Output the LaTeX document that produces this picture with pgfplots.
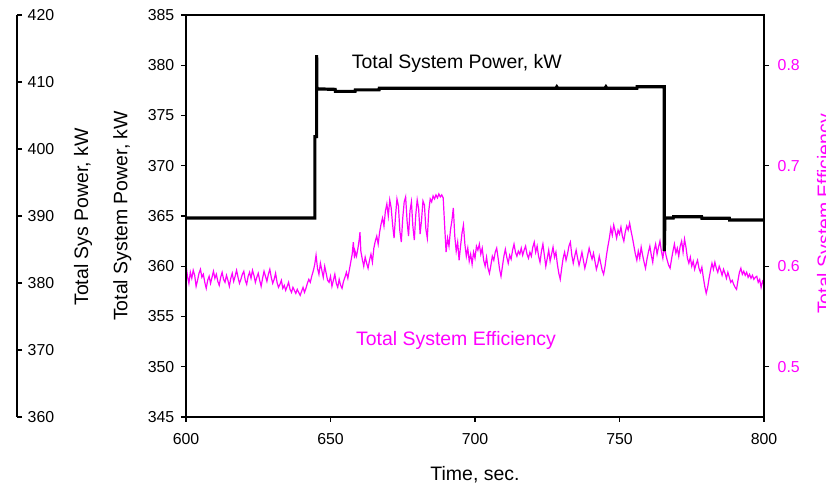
\documentclass[border=0pt]{standalone}
\usepackage{fontspec}
\setmainfont{Liberation Sans}
\usepackage{pgfplots}
\pgfplotsset{compat=1.18}
\usepackage{pgfplotstable}
\definecolor{effmag}{RGB}{255,0,255}

\pgfplotstableread{
t p
600.0 364.8
644.6 364.8
644.6 372.9
645.2 372.9
645.2 381.0
645.3 377.65
651.6 377.6
651.7 377.4
658.5 377.4
658.6 377.55
666.8 377.55
666.9 377.72
728.0 377.72
728.3 377.85
728.6 377.72
745.0 377.72
745.3 377.85
745.6 377.72
756.0 377.7
756.1 377.87
765.5 377.87
765.5 361.5
765.7 364.8
768.6 364.8
768.7 364.93
778.4 364.93
778.5 364.77
788.0 364.77
788.1 364.6
800.0 364.6
}\powtable

\pgfplotstableread{
t e
600.0 0.601
600.5 0.590
601.0 0.583
601.5 0.594
602.0 0.588
602.5 0.596
603.0 0.591
603.5 0.580
604.0 0.586
604.5 0.593
605.0 0.597
605.5 0.589
606.0 0.592
606.5 0.584
607.0 0.578
607.5 0.586
608.0 0.590
608.5 0.583
609.0 0.589
609.5 0.595
610.0 0.588
610.5 0.592
611.0 0.585
611.5 0.581
612.0 0.589
612.5 0.594
613.0 0.587
613.5 0.584
614.0 0.591
614.5 0.586
615.0 0.580
615.5 0.588
616.0 0.593
616.5 0.585
617.0 0.590
617.5 0.596
618.0 0.589
618.5 0.583
619.0 0.587
619.5 0.592
620.0 0.595
620.5 0.586
621.0 0.582
621.5 0.590
622.0 0.594
622.5 0.588
623.0 0.596
623.5 0.591
624.0 0.584
624.5 0.589
625.0 0.593
625.5 0.586
626.0 0.580
626.5 0.588
627.0 0.595
627.5 0.590
628.0 0.585
628.5 0.592
629.0 0.597
629.5 0.589
630.0 0.583
630.5 0.587
631.0 0.593
631.5 0.584
632.0 0.579
632.5 0.582
633.0 0.586
633.5 0.578
634.0 0.581
634.5 0.576
635.0 0.580
635.5 0.584
636.0 0.577
636.5 0.574
637.0 0.579
637.5 0.576
638.0 0.573
638.5 0.577
639.0 0.574
639.5 0.571
640.0 0.575
640.5 0.579
641.0 0.574
641.5 0.578
642.0 0.583
642.5 0.587
643.0 0.584
643.5 0.590
644.0 0.595
644.5 0.601
645.0 0.611
645.5 0.598
646.0 0.592
646.5 0.603
647.0 0.596
647.5 0.589
648.0 0.600
648.5 0.593
649.0 0.586
649.5 0.584
650.0 0.590
650.5 0.580
651.0 0.586
651.5 0.592
652.0 0.583
652.5 0.579
653.0 0.587
653.5 0.581
654.0 0.578
654.5 0.585
655.0 0.589
655.5 0.594
656.0 0.588
656.5 0.596
657.0 0.604
657.5 0.612
657.9 0.624
658.3 0.608
658.5 0.615
659.0 0.610
659.5 0.618
660.0 0.628
660.2 0.634
660.5 0.615
661.0 0.607
661.5 0.600
662.0 0.609
662.5 0.603
663.0 0.598
663.5 0.606
664.0 0.612
664.5 0.604
665.0 0.618
665.5 0.625
666.0 0.630
666.5 0.622
667.0 0.634
667.5 0.642
668.0 0.648
668.5 0.640
669.0 0.655
669.5 0.662
670.0 0.650
670.5 0.666
671.0 0.658
671.5 0.641
672.0 0.628
672.5 0.650
673.0 0.667
673.5 0.660
674.0 0.635
674.5 0.624
675.0 0.648
675.5 0.664
676.0 0.669
676.5 0.645
677.0 0.630
677.5 0.655
678.0 0.664
678.5 0.640
679.0 0.626
679.5 0.651
680.0 0.666
680.5 0.657
681.0 0.632
681.5 0.646
682.0 0.665
682.5 0.661
683.0 0.637
683.5 0.628
684.0 0.655
684.5 0.667
685.0 0.664
685.5 0.670
686.0 0.667
686.5 0.671
687.0 0.668
687.5 0.672
688.0 0.669
688.5 0.671
689.0 0.668
689.5 0.640
690.0 0.614
690.5 0.628
691.0 0.620
691.5 0.636
692.0 0.645
692.5 0.658
693.0 0.630
693.5 0.615
694.0 0.624
694.5 0.606
695.0 0.620
695.5 0.633
696.0 0.641
696.5 0.622
697.0 0.610
697.5 0.618
698.0 0.605
698.5 0.612
699.0 0.602
699.5 0.614
700.0 0.608
700.5 0.620
701.0 0.616
701.5 0.622
702.0 0.612
702.5 0.618
703.0 0.606
703.5 0.600
704.0 0.609
704.5 0.598
705.0 0.593
705.5 0.601
706.0 0.610
706.5 0.606
707.0 0.614
707.5 0.618
708.0 0.608
708.5 0.597
709.0 0.590
709.5 0.600
710.0 0.610
710.5 0.617
711.0 0.609
711.5 0.603
712.0 0.611
712.5 0.607
713.0 0.616
713.5 0.622
714.0 0.614
714.5 0.610
715.0 0.615
715.5 0.612
716.0 0.618
716.5 0.611
717.0 0.616
717.5 0.620
718.0 0.612
718.5 0.608
719.0 0.614
719.5 0.610
720.0 0.619
720.5 0.624
721.0 0.614
721.5 0.620
722.0 0.610
722.5 0.604
723.0 0.615
723.5 0.622
724.0 0.611
724.5 0.600
725.0 0.608
725.5 0.616
726.0 0.605
726.5 0.612
727.0 0.619
727.5 0.609
728.0 0.614
728.5 0.602
729.0 0.593
729.5 0.587
730.0 0.598
730.5 0.608
731.0 0.614
731.5 0.606
732.0 0.612
732.5 0.620
733.0 0.624
733.5 0.611
734.0 0.603
734.5 0.610
735.0 0.616
735.5 0.608
736.0 0.601
736.5 0.607
737.0 0.614
737.5 0.606
738.0 0.598
738.5 0.604
739.0 0.611
739.5 0.618
740.0 0.612
740.5 0.607
741.0 0.613
741.5 0.605
742.0 0.597
742.5 0.602
743.0 0.610
743.5 0.603
744.0 0.596
744.5 0.592
745.0 0.600
745.5 0.611
746.0 0.620
746.5 0.628
747.0 0.638
747.5 0.631
748.0 0.641
748.5 0.635
749.0 0.628
749.5 0.636
750.0 0.632
750.5 0.639
751.0 0.630
751.5 0.625
752.0 0.634
752.5 0.640
753.0 0.636
753.5 0.643
754.0 0.635
754.5 0.628
755.0 0.620
755.5 0.612
756.0 0.606
756.5 0.615
757.0 0.608
757.5 0.619
758.0 0.611
758.5 0.604
759.0 0.598
759.5 0.607
760.0 0.614
760.5 0.620
761.0 0.611
761.5 0.604
762.0 0.616
762.5 0.622
763.0 0.612
763.5 0.619
764.0 0.625
764.5 0.615
765.0 0.608
765.5 0.620
766.0 0.612
766.5 0.606
767.0 0.601
767.5 0.598
768.0 0.607
768.5 0.615
769.0 0.622
769.5 0.613
770.0 0.618
770.5 0.610
771.0 0.620
771.5 0.625
772.0 0.614
772.5 0.627
773.0 0.619
773.5 0.608
774.0 0.603
774.5 0.609
775.0 0.600
775.5 0.605
776.0 0.597
776.5 0.602
777.0 0.606
777.5 0.598
778.0 0.594
778.5 0.599
779.0 0.589
779.5 0.580
780.0 0.573
780.5 0.579
781.0 0.588
781.5 0.596
782.0 0.603
782.5 0.597
783.0 0.604
783.5 0.598
784.0 0.594
784.5 0.600
785.0 0.596
785.5 0.591
786.0 0.597
786.5 0.593
787.0 0.588
787.5 0.594
788.0 0.589
788.5 0.584
789.0 0.586
789.5 0.582
790.0 0.579
790.5 0.577
791.0 0.586
791.5 0.594
792.0 0.598
792.5 0.592
793.0 0.595
793.5 0.591
794.0 0.594
794.5 0.589
795.0 0.592
795.5 0.588
796.0 0.591
796.5 0.587
797.0 0.589
797.5 0.590
798.0 0.584
798.5 0.587
799.0 0.579
799.5 0.585
800.0 0.582
}\efftable

\newcommand{\lblfont}{\fontsize{14.6}{17}\selectfont}
\newcommand{\tckfont}{\fontsize{11.9}{14}\selectfont}

\begin{document}
\begin{tikzpicture}
\useasboundingbox (0,0) rectangle (619.5pt,366.75pt);
\pgfplotsset{
  every axis/.append style={
    scale only axis,
    /pgf/number format/assume math mode=true,
    tick label style={font=\tckfont},
    label style={font=\lblfont},
    major tick length=3.75pt,
    tick align=outside,
    axis line style={line width=0.8pt, black},
    every tick/.style={line width=0.8pt, black},
  },
}
% right axis: efficiency
\begin{axis}[
  at={(139.5pt,54pt)}, anchor=south west,
  width=433.5pt, height=301.5pt,
  xmin=600, xmax=800,
  ymin=0.45, ymax=0.85,
  axis x line=none,
  axis y line*=right,
  ytick={0.5,0.6,0.7,0.8},
  yticklabel style={text=effmag, xshift=3pt, /pgf/number format/.cd, fixed, precision=1},
  ylabel={Total System Efficiency},
  ylabel style={text=effmag, at={(axis description cs:1.116,0.505)}, anchor=base},
]
\addplot[effmag, line width=0.9pt] table[x=t, y=e] {\efftable};
\end{axis}
% main axis: power
\begin{axis}[
  at={(139.5pt,54pt)}, anchor=south west,
  width=433.5pt, height=301.5pt,
  xmin=600, xmax=800,
  ymin=345, ymax=385,
  xtick={600,650,...,800},
  ytick={345,350,...,385},
  xtick pos=left, ytick pos=left,
  xticklabel style={yshift=-5.25pt},
  yticklabel style={xshift=-1.5pt},
  xlabel={Time, sec.},
  xlabel style={at={(axis description cs:0.5,-0.157)}, anchor=base},
  ylabel={Total System Power, kW},
  ylabel style={at={(axis description cs:-0.1016,0.5)}, anchor=base},
]
\addplot[black, line width=2.4pt, line join=miter] table[x=t, y=p] {\powtable};
\node[anchor=base, font=\lblfont] at (axis cs:693.7,379.63) {Total System Power, kW};
\node[anchor=base, font=\lblfont, text=effmag] at (axis cs:693.4,352.07) {Total System Efficiency};
\end{axis}
% outer left axis
\begin{axis}[
  at={(12.75pt,54pt)}, anchor=south east,
  width=5pt, height=301.5pt,
  xmin=0, xmax=1,
  ymin=360, ymax=420,
  axis x line=none,
  axis y line*=right,
  ytick={360,370,...,420},
  yticklabel style={xshift=0.75pt},
  ylabel={Total Sys Power, kW},
  ylabel style={at={(axis description cs:11.65,0.4975)}, anchor=base},
]
\addplot[draw=none] coordinates {(0,360)};
\end{axis}
\end{tikzpicture}
\end{document}
